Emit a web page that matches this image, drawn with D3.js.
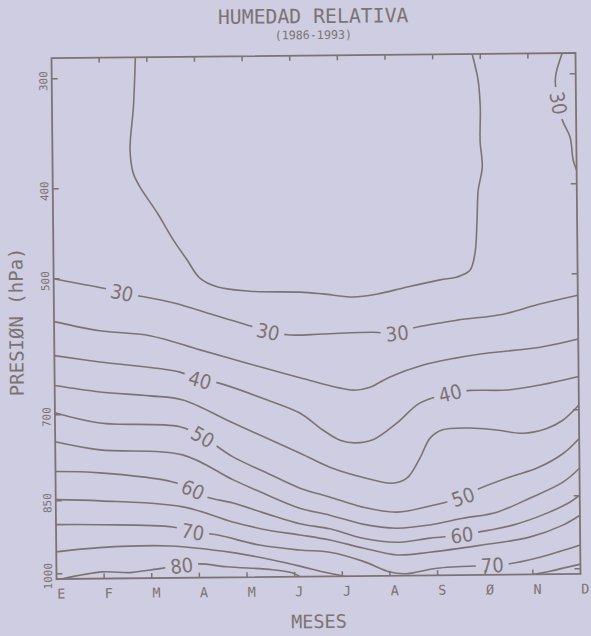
<!DOCTYPE html>
<html><head><meta charset="utf-8">
<script src="https://cdn.jsdelivr.net/npm/d3@7"></script>
<style>
html,body{margin:0;padding:0;background:#cecde1;}
svg{display:block;}
</style></head>
<body>
<svg id="chart" width="591" height="636"></svg>
<script>
// ---------- data ----------
const title = "HUMEDAD RELATIVA";
const subtitle = "(1986-1993)";
const xTitle = "MESES";
const yTitle = "PRESIØN (hPa)";
const months = ["E","F","M","A","M","J","J","A","S","Ø","N","D"];
const pressureTicks = [300, 400, 500, 700, 850, 1000];
const pressureKnots = [281, 300, 400, 500, 700, 850, 1000, 1011];

// contour lines: [month index (0 = E), pressure (hPa)]
const rh30Upper = [[1.76,281],[1.71,326],[1.63,365],[1.69,386],[1.83,399],[2.19,428],[2.52,458],[2.80,480],[3.07,501],[3.43,514],[4.12,521],[5.17,523],[5.65,526],[6.28,531],[6.79,527],[7.42,517],[8.11,507],[8.47,503],[8.74,495],[8.85,476],[8.90,439],[8.93,406],[9.02,384],[8.98,360],[8.99,330],[8.95,305],[8.83,281]];
const rh30TopRight = [[10.72,281],[10.59,299],[10.57,308],[10.63,326.5],[10.71,342],[10.87,357.6],[10.93,378.5],[11,387.6]];
const rh30 = [[0,500],[0.55,507.6],[1.08,515],[1.43,521.5],[1.77,526],[2.50,537],[3.34,555],[4.18,573.5],[4.49,581],[4.95,586],[5.64,585],[6.69,583],[7.20,585],[7.53,577.5],[8.46,566.5],[9.43,558.4],[10.20,544],[11,531.5]];
const rh35 = [[0,563],[0.96,577],[2.01,585],[3.06,606.6],[4.10,628],[5.15,649],[6.27,668],[6.62,664],[7.04,649],[7.74,632],[8.45,622],[9.14,615],[10.2,607.5],[11,596]];
const rh40 = [[0,613],[0.95,623],[2.63,639],[3.05,651],[3.41,655],[4.45,681],[5.14,701],[5.62,731],[5.98,749],[6.29,754],[6.67,749],[7.18,720],[7.66,688],[8.30,674],[8.72,670],[9.49,670],[10.19,663],[11,651]];
const rh45 = [[0,657],[0.95,667],[2.0,673.5],[2.69,680],[3.73,717],[5.14,771],[5.76,796],[6.44,814],[7.08,825],[7.38,816],[7.65,782],[7.87,747],[8.12,733],[8.71,730],[9.27,734],[9.82,740],[10.32,732],[10.66,718],[11,693]];
const rh50 = [[0,697],[0.94,715],[2.62,723],[3.10,741],[3.72,776],[4.44,805],[5.13,832],[5.75,848],[6.44,869],[7.16,880],[7.85,868],[8.55,850],[8.86,837],[9.54,816],[10.11,801],[10.66,776],[11,750]];
const rh55 = [[0,747],[0.94,762],[2.67,772],[3.72,816],[4.43,843],[5.12,870],[5.75,885],[6.44,904],[7.15,913],[7.85,907],[8.54,894],[9.26,882],[9.95,854],[10.65,826],[11,802]];
const rh60 = [[0,799],[0.94,802],[2.46,819],[2.88,833],[3.17,846],[3.72,858],[4.43,881],[5.12,902],[5.75,913],[6.44,933],[7.15,942],[7.85,934],[8.52,928.5],[8.85,923],[9.59,909],[10.31,885],[10.79,863],[11,849]];
const rh65 = [[0,848],[0.94,851],[2.67,865],[3.71,897],[4.43,914],[5.12,925],[5.75,936],[6.44,953],[7.15,968],[7.84,963],[8.89,950],[9.94,934],[10.64,910],[11,890]];
const rh70 = [[0,899],[0.92,900],[2.45,906],[2.87,916.5],[3.37,923],[4.27,945],[5.11,956],[5.74,961],[6.43,980],[7.0,1003],[7.32,1007],[7.99,996],[9.15,991],[9.46,989],[10.09,977],[10.63,962],[11,951]];
const rh75 = [[0,955],[0.91,947],[2.38,945],[3.71,960],[4.54,976],[5.11,989],[5.63,1002],[6.05,1011]];
const rh75Right = [[10.0,1011],[10.36,1004.5],[11,990.5]];
const rh80 = [[0.11,1011],[0.97,997],[1.54,999],[1.96,994],[2.63,986],[3.01,982.5],[3.58,989],[4.54,996],[4.96,1003],[5.11,1011]];

const contourLines = {rh30Upper, rh30TopRight, rh30, rh35, rh40, rh45, rh50, rh55, rh60, rh65, rh70, rh75, rh75Right, rh80};
const contourLevels = {rh30Upper:30, rh30TopRight:30, rh30:30, rh35:35, rh40:40, rh45:45, rh50:50, rh55:55, rh60:60, rh65:65, rh70:70, rh75:75, rh75Right:75, rh80:80};

// labels: [line, month, pressure]
const contourLabels = [
  ["rh30",1.43,521.5],["rh30",4.49,581],["rh30",7.20,585],["rh30TopRight",10.63,326.5],
  ["rh40",3.05,651],["rh40",8.30,674],
  ["rh50",3.10,741],["rh50",8.55,850],
  ["rh60",2.88,833],["rh60",8.52,928.5],
  ["rh70",2.87,916.5],["rh70",9.15,991],
  ["rh80",2.63,986]
];

// ---------- layout ----------
const BG = "#cecde1", INK = "#7d7373";
const frame = {left:54, top:55.5, right:578, bottom:576.5};
const fh = frame.bottom - frame.top;
const yFrac = [0, 0.0399, 0.2511, 0.4238, 0.6848, 0.8499, 0.99, 1];

const svg = d3.select("#chart");
svg.append("rect").attr("width",591).attr("height",636).attr("fill",BG);
const g = svg.append("g").attr("transform","rotate(-0.55,316,316)");

const x = d3.scaleLinear().domain([0, months.length-1]).range([frame.left, frame.right]);
const y = d3.scaleLinear().domain(pressureKnots).range(yFrac.map(f => frame.top + f*fh));

const mono = "'DejaVu Sans Mono', monospace";

// contours
const line = d3.line().x(d => x(d[0])).y(d => y(d[1])).curve(d3.curveCatmullRom.alpha(0.5));
const clipId = "plotclip";
svg.append("defs").append("clipPath").attr("id",clipId).append("rect")
  .attr("x",frame.left).attr("y",frame.top).attr("width",frame.right-frame.left).attr("height",fh);
const cg = g.append("g").attr("clip-path",`url(#${clipId})`);
Object.entries(contourLines).forEach(([k, pts]) => {
  cg.append("path").attr("d", line(pts)).attr("fill","none")
    .attr("stroke",INK).attr("stroke-width",1.6).attr("stroke-linejoin","round");
});

// labels
const lg = g.append("g");
contourLabels.forEach(([k, m, p]) => {
  const pts = contourLines[k];
  const px = x(m), py = y(p);
  let bi = 0, bd = Infinity;
  pts.forEach((q,i) => { const d = Math.hypot(x(q[0])-px, y(q[1])-py); if (d < bd) { bd = d; bi = i; } });
  const a = pts[Math.max(0,bi-1)], b = pts[Math.min(pts.length-1,bi+1)];
  let ang = Math.atan2(y(b[1])-y(a[1]), x(b[0])-x(a[0])) * 180/Math.PI;
  if (ang > 90) ang -= 180; if (ang < -90) ang += 180;
  const t = lg.append("g").attr("transform",`translate(${px},${py}) rotate(${ang})`);
  const r = t.append("rect").attr("fill",BG);
  const txt = t.append("text").text(contourLevels[k])
    .attr("text-anchor","middle").attr("dy","0.36em")
    .attr("font-family","'Liberation Sans Narrow','DejaVu Sans Condensed',sans-serif")
    .attr("font-size",20).attr("fill",INK);
  const len = txt.node().getComputedTextLength();
  r.attr("x",-len/2-5).attr("y",-7).attr("width",len+10).attr("height",14);
});

// frame
g.append("rect").attr("x",frame.left).attr("y",frame.top)
  .attr("width",frame.right-frame.left).attr("height",fh)
  .attr("fill","none").attr("stroke",INK).attr("stroke-width",1.8);

// ticks
const tk = g.append("g").attr("stroke",INK).attr("stroke-width",1.5);
pressureTicks.forEach(p => {
  tk.append("line").attr("x1",frame.left).attr("x2",frame.left+6).attr("y1",y(p)).attr("y2",y(p));
  tk.append("line").attr("x1",frame.right).attr("x2",frame.right-6).attr("y1",y(p)).attr("y2",y(p));
});
d3.range(1, months.length-1).forEach(i => {
  tk.append("line").attr("x1",x(i)).attr("x2",x(i)).attr("y1",frame.bottom).attr("y2",frame.bottom-5);
  tk.append("line").attr("x1",x(i)).attr("x2",x(i)).attr("y1",frame.top).attr("y2",frame.top+5);
});

// tick labels
pressureTicks.forEach(p => {
  g.append("text").text(p)
    .attr("transform",`translate(${frame.left-4.5},${y(p)+2.3}) rotate(-90)`)
    .attr("text-anchor","middle").attr("font-family",mono).attr("font-size",11).attr("fill",INK);
});
months.forEach((mLab, i) => {
  g.append("text").text(mLab).attr("x",x(i)+0.5).attr("y",596)
    .attr("font-family",mono).attr("font-size",13.5).attr("fill",INK);
});

// titles
const cx = (frame.left+frame.right)/2;
g.append("text").text(title).attr("x",cx).attr("y",23).attr("text-anchor","middle")
  .attr("font-family",mono).attr("font-size",19.8).attr("fill",INK);
g.append("text").text(subtitle).attr("x",cx).attr("y",39).attr("text-anchor","middle")
  .attr("font-family",mono).attr("font-size",11.7).attr("fill",INK);
g.append("text").text(xTitle).attr("x",cx).attr("y",628).attr("text-anchor","middle")
  .attr("font-family",mono).attr("font-size",18.5).attr("fill",INK);
g.append("text").text(yTitle)
  .attr("transform",`translate(23,319) rotate(-90)`).attr("text-anchor","middle")
  .attr("font-family",mono).attr("font-size",19).attr("fill",INK);
</script>
</body></html>
